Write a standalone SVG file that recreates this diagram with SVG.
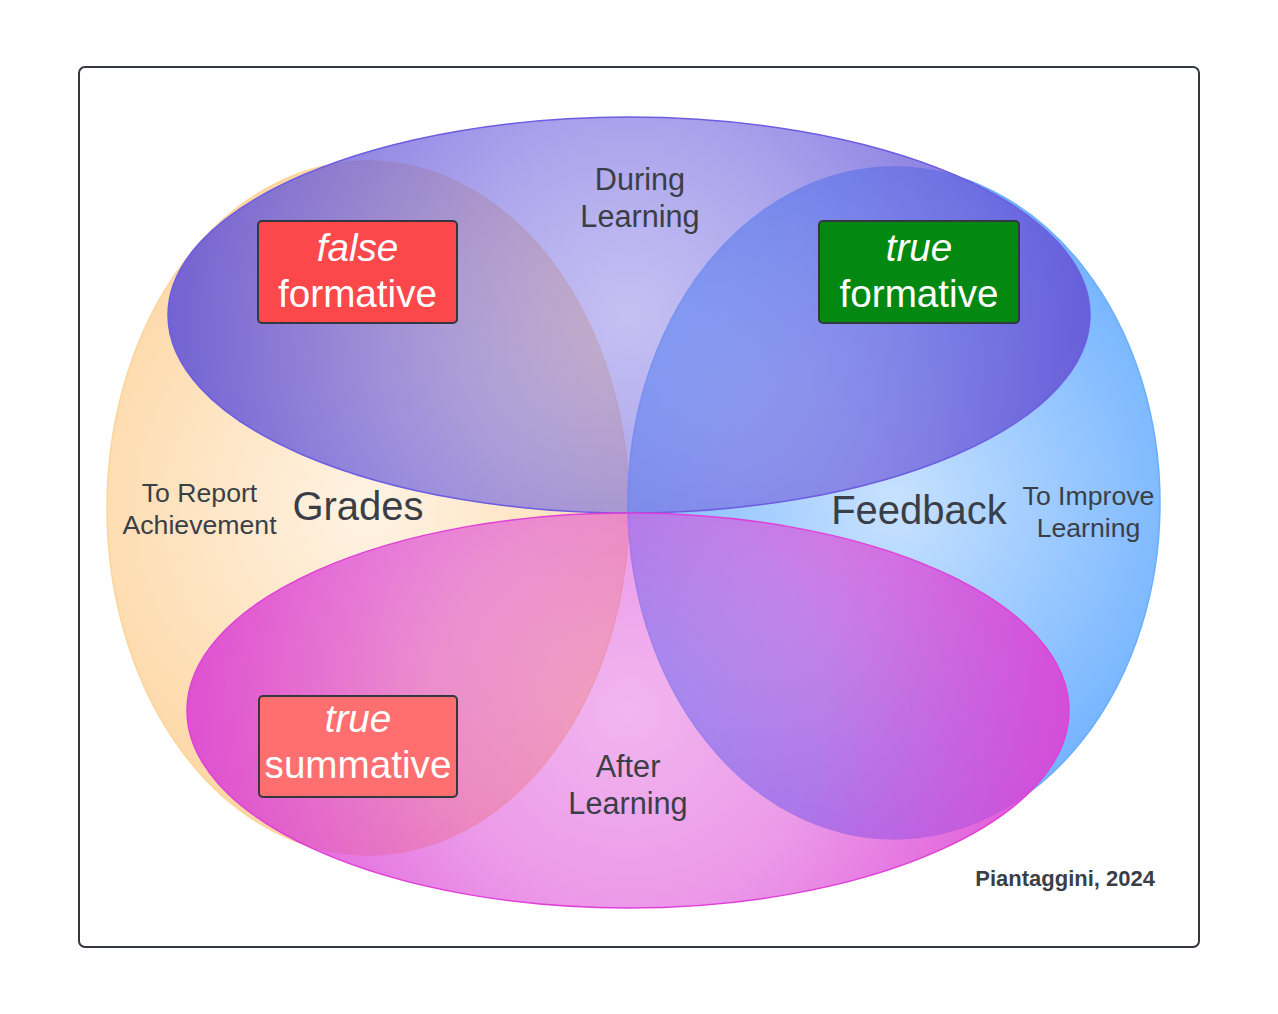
<svg xmlns="http://www.w3.org/2000/svg" width="1278" height="1014" viewBox="0 0 1278 1014">
  <defs>
    <radialGradient id="gOrange" gradientUnits="userSpaceOnUse" cx="368" cy="508" r="347">
      <stop offset="0" stop-color="#fff3e4"/>
      <stop offset="1" stop-color="#fdd6a2"/>
    </radialGradient>
    <radialGradient id="gBlue" gradientUnits="userSpaceOnUse" cx="894" cy="503" r="336">
      <stop offset="0" stop-color="#c8e2ff"/>
      <stop offset="1" stop-color="#6eb0ff"/>
    </radialGradient>
    <radialGradient id="gPurple" gradientUnits="userSpaceOnUse" cx="629" cy="315" r="461">
      <stop offset="0" stop-color="#8c82e6" stop-opacity="0.5"/>
      <stop offset="0.4" stop-color="#7d72e1" stop-opacity="0.64"/>
      <stop offset="1" stop-color="#6455d6" stop-opacity="0.9"/>
    </radialGradient>
    <radialGradient id="gPink" gradientUnits="userSpaceOnUse" cx="628" cy="710" r="441">
      <stop offset="0" stop-color="#de50d8" stop-opacity="0.42"/>
      <stop offset="0.45" stop-color="#dc46d6" stop-opacity="0.55"/>
      <stop offset="1" stop-color="#dc44d4" stop-opacity="0.92"/>
    </radialGradient>
  </defs>
  <style>
    .lbl { font-family: "Liberation Sans", Arial, sans-serif; fill: #3a3f47; text-anchor: middle; }
    .sm { font-size: 26.67px; }
    .md { font-size: 30.67px; }
    .lg { font-size: 40px; }
    .box { stroke: #333840; stroke-width: 2; }
    .bt { font-family: "Liberation Sans", Arial, sans-serif; font-size: 38.67px; fill: #ffffff; text-anchor: middle; }
    .it { font-style: italic; }
  </style>
  <rect x="79" y="67" width="1120" height="880" rx="6" fill="#ffffff" stroke="#333840" stroke-width="2"/>

  <g id="sets">
    <g id="grades-set">
      <ellipse cx="368" cy="508" rx="261" ry="347" fill="url(#gOrange)" stroke="#fdd49a" stroke-width="1.5"/>
    </g>
    <g id="feedback-set">
      <ellipse cx="894" cy="503" rx="266" ry="336" fill="url(#gBlue)" stroke="#6aaeff" stroke-width="1.5"/>
    </g>
    <g id="during-set">
      <ellipse cx="629" cy="315" rx="461" ry="198" fill="url(#gPurple)" stroke="#6d5de0" stroke-width="1.5"/>
    </g>
    <g id="after-set">
      <ellipse cx="628" cy="710.5" rx="441" ry="197.5" fill="url(#gPink)" stroke="#e040d8" stroke-width="1.5"/>
    </g>
  </g>

  <g id="connectors"></g>

  <g id="labels">
    <text class="lbl md" x="640" y="190">During</text>
    <text class="lbl md" x="640" y="227">Learning</text>
    <text class="lbl md" x="628" y="777">After</text>
    <text class="lbl md" x="628" y="814">Learning</text>
    <text class="lbl sm" x="199.5" y="502">To Report</text>
    <text class="lbl sm" x="199.5" y="534">Achievement</text>
    <text class="lbl lg" x="358" y="520">Grades</text>
    <text class="lbl lg" x="919" y="524">Feedback</text>
    <text class="lbl sm" x="1088.5" y="505">To Improve</text>
    <text class="lbl sm" x="1088.5" y="537">Learning</text>
  </g>

  <g id="false-formative">
    <rect class="box" x="258" y="221" width="199" height="102" rx="4" fill="#fc474b"/>
    <text class="bt it" x="357.5" y="261">false</text>
    <text class="bt" x="357.5" y="307">formative</text>
  </g>
  <g id="true-formative">
    <rect class="box" x="819" y="221" width="200" height="102" rx="4" fill="#038812"/>
    <text class="bt it" x="919" y="261">true</text>
    <text class="bt" x="919" y="307">formative</text>
  </g>
  <g id="true-summative">
    <rect class="box" x="259" y="696" width="198" height="101" rx="4" fill="#ff6f6f"/>
    <text class="bt it" x="358" y="732">true</text>
    <text class="bt" x="358" y="778">summative</text>
  </g>

  <g id="credit">
    <text x="1155" y="886" font-family="'Liberation Sans', Arial, sans-serif" font-size="22" font-weight="bold" fill="#3a3f47" text-anchor="end">Piantaggini, 2024</text>
  </g>
</svg>
